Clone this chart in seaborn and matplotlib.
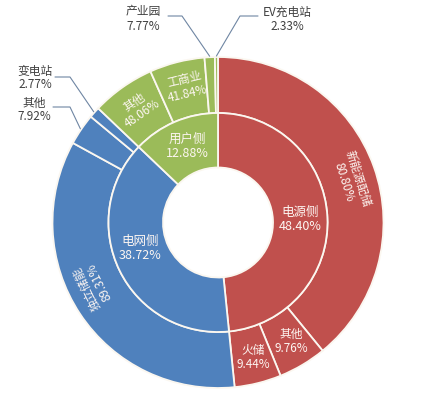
import numpy as np
import matplotlib
matplotlib.use('Agg')
import matplotlib.pyplot as plt
import seaborn as sns

# ---- data ----
inner_labels = ['电源侧', '电网侧', '用户侧']
inner_values = [48.40, 38.72, 12.88]
power_labels = ['新能源配储', '其他', '火储']
power_values = [80.80, 9.76, 9.44]
grid_labels = ['独立储能', '其他', '变电站']
grid_values = [89.31, 7.92, 2.77]
user_labels = ['其他', '工商业', '产业园', 'EV充电站']
user_values = [48.06, 41.84, 7.77, 2.33]

sns.set_theme(style='white')
plt.rcParams['font.family'] = ['Noto Sans CJK SC', 'DejaVu Sans']

palette = sns.color_palette(['#C0504D', '#4F81BD', '#9BBB59'])

W, H = 430, 395
fig = plt.figure(figsize=(W / 100, H / 100), dpi=100)
ax = fig.add_axes([0, 0, 1, 1])
cx, cy = 218, H - 222.5
R_out, R_mid, R_in = 165.5, 109.5, 55

children = [(power_labels, power_values), (grid_labels, grid_values), (user_labels, user_values)]
outer_vals, outer_cols, outer_names = [], [], []
for (labs, vals), pv, col in zip(children, inner_values, palette):
    for l, v in zip(labs, vals):
        outer_vals.append(pv * v / 100.0)
        outer_cols.append(col)
        outer_names.append((l, v))

wedges_out, _ = ax.pie(outer_vals, radius=R_out, center=(cx, cy), colors=outer_cols,
                       startangle=90, counterclock=False,
                       wedgeprops=dict(width=R_out - R_mid, edgecolor='#fbf7f0', linewidth=1.3))
wedges_in, _ = ax.pie(inner_values, radius=R_mid, center=(cx, cy), colors=palette,
                      startangle=90, counterclock=False,
                      wedgeprops=dict(width=R_mid - R_in, edgecolor='#fbf7f0', linewidth=1.3))
ax.set_xlim(0, W)
ax.set_ylim(0, H)
ax.set_aspect('equal')
ax.axis('off')


def mid_angle(w):
    return (w.theta1 + w.theta2) / 2.0


# inner labels
r_lab = (R_in + R_mid) / 2.0
inner_off = {0: -1.0, 1: -8.0, 2: -1.5}
for i, (w, name, val) in enumerate(zip(wedges_in, inner_labels, inner_values)):
    a = np.deg2rad(mid_angle(w) + inner_off.get(i, 0))
    ax.text(cx + r_lab * np.cos(a), cy + r_lab * np.sin(a), f'{name}\n{val:.2f}%',
            ha='center', va='center', color='#fdf6f2', fontsize=9, linespacing=1.1)

# outer labels
r_lab2 = (R_mid + R_out) / 2.0 + 2
inside = {0: ('tan', -2.0), 1: (0, 1.0), 2: (0, 0.5), 3: ('tan', -7.0), 6: ('tan', -0.5), 7: ('tan', -1.0)}
for i, (l, v) in enumerate(outer_names):
    if i in inside:
        rot, off = inside[i]
        ang = mid_angle(wedges_out[i]) + off
        a = np.deg2rad(ang)
        if rot == 'tan':
            rot = (ang - 90) % 360
        ax.text(cx + r_lab2 * np.cos(a), cy + r_lab2 * np.sin(a), f'{l}\n{v:.2f}%',
                ha='center', va='center', color='#fdf6f2', fontsize=8.5, rotation=rot,
                rotation_mode='anchor', linespacing=1.1)

# outside labels with leader lines (pixel coords from top-left)
outside = {
    4: dict(text=(34, 110), start=(53, 107), elbow=(70, 107)),
    5: dict(text=(35, 78), start=(55, 77), elbow=(70, 77)),
    8: dict(text=(143, 19), start=(168, 16), elbow=(182, 16)),
    9: dict(text=(287, 19), start=(258, 16), elbow=(240, 16)),
}
for i, spec in outside.items():
    l, v = outer_names[i]
    a = np.deg2rad(mid_angle(wedges_out[i]))
    ex, ey = cx + (R_out + 1) * np.cos(a), cy + (R_out + 1) * np.sin(a)
    xs = [spec['start'][0], spec['elbow'][0], ex]
    ys = [H - spec['start'][1], H - spec['elbow'][1], ey]
    ax.plot(xs, ys, color='#6f86a3', lw=0.8)
    tx, ty = spec['text']
    ax.text(tx, H - ty, f'{l}\n{v:.2f}%', ha='center', va='center', color='#404040',
            fontsize=8.5, linespacing=1.1)

fig.savefig('out.png', dpi=100)
